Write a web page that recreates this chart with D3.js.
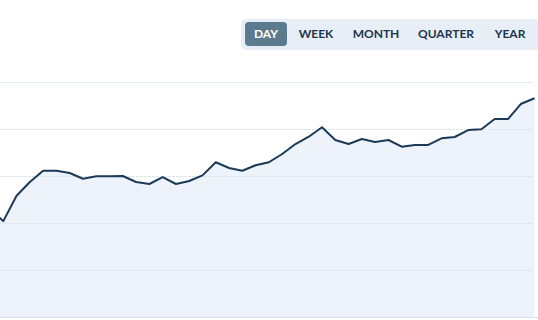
<!DOCTYPE html>
<html>
<head>
<meta charset="utf-8">
<script src="https://cdn.jsdelivr.net/npm/d3@7"></script>
<style>
  html, body { margin: 0; padding: 0; background: #fff; }
  svg { display: block; font-family: "Lato", "Open Sans", sans-serif; }
</style>
</head>
<body>
<div id="chart"></div>
<script>
const width = 538
const height = 320

// values, one per day
const values = [115, 102, 129, 143.6, 155.6, 155.6, 153.2, 147.1, 149.7, 149.7, 150,
    143.6, 141.5, 148.9, 141.5, 144.7, 150.7, 164.6, 158.5, 155.6, 161.4, 164.6,
    173.4, 184, 191.8, 201.8, 188.3, 184, 189.4, 186.2, 188.3, 181.2, 183, 183,
    190.1, 191.5, 198.9, 199.7, 210.6, 210.6, 226.9, 232.7]
const yTicks = [0, 50, 100, 150, 200, 250]
const periods = ['DAY', 'WEEK', 'MONTH', 'QUARTER', 'YEAR']
const activePeriod = 'DAY'

const svg = d3.select('#chart').append('svg')
    .attr('width', width)
    .attr('height', height)

const xScale = d3.scaleLinear().domain([0, values.length - 1]).range([-10, 534.5])
const yScale = d3.scaleLinear().domain([0, 250]).range([317, 82])

const plot = svg.append('g')

const area = d3.area()
    .x((d, i) => xScale(i))
    .y0(yScale(0))
    .y1(d => yScale(d))

const valueline = d3.line()
    .x((d, i) => xScale(i))
    .y(d => yScale(d))

plot.append('path')
    .datum(values)
    .attr('fill', '#eef2fb')
    .attr('d', area)

// grid, drawn over the fill
plot.append('g')
    .selectAll('line')
    .data(yTicks.slice(1))
    .join('line')
    .attr('x1', 0)
    .attr('x2', 533)
    .attr('y1', d => Math.round(yScale(d)) + 0.5)
    .attr('y2', d => Math.round(yScale(d)) + 0.5)
    .attr('stroke', '#dfe3ea')
    .attr('stroke-dasharray', '3,1')

plot.append('line')
    .attr('x1', 0)
    .attr('x2', width)
    .attr('y1', yScale(0) + 0.5)
    .attr('y2', yScale(0) + 0.5)
    .attr('stroke', '#d8dce3')

plot.append('path')
    .datum(values)
    .attr('fill', 'none')
    .attr('stroke', '#1b3a5a')
    .attr('stroke-width', 2)
    .attr('stroke-linejoin', 'round')
    .attr('d', valueline)

// period switcher
const btnX = [245, 293, 345, 409, 484]
const btnW = [42, 46, 62, 74, 52]
const switcher = svg.append('g')
switcher.append('rect')
    .attr('x', 241)
    .attr('y', 19)
    .attr('width', 300)
    .attr('height', 31)
    .attr('rx', 5)
    .attr('fill', '#e8eef5')

const btn = switcher.selectAll('g.btn')
    .data(periods)
    .join('g')
    .attr('class', 'btn')

btn.filter(d => d === activePeriod)
    .append('rect')
    .attr('x', (d, i) => btnX[i])
    .attr('y', 22)
    .attr('width', (d, i) => btnW[i])
    .attr('height', 24)
    .attr('rx', 4)
    .attr('fill', '#5b7a8e')

btn.append('text')
    .attr('x', d => btnX[periods.indexOf(d)] + btnW[periods.indexOf(d)] / 2)
    .attr('y', 38)
    .attr('text-anchor', 'middle')
    .attr('font-size', 12)
    .attr('font-weight', 700)
    .attr('fill', d => d === activePeriod ? '#ffffff' : '#1e3550')
    .text(d => d)
</script>
</body>
</html>
